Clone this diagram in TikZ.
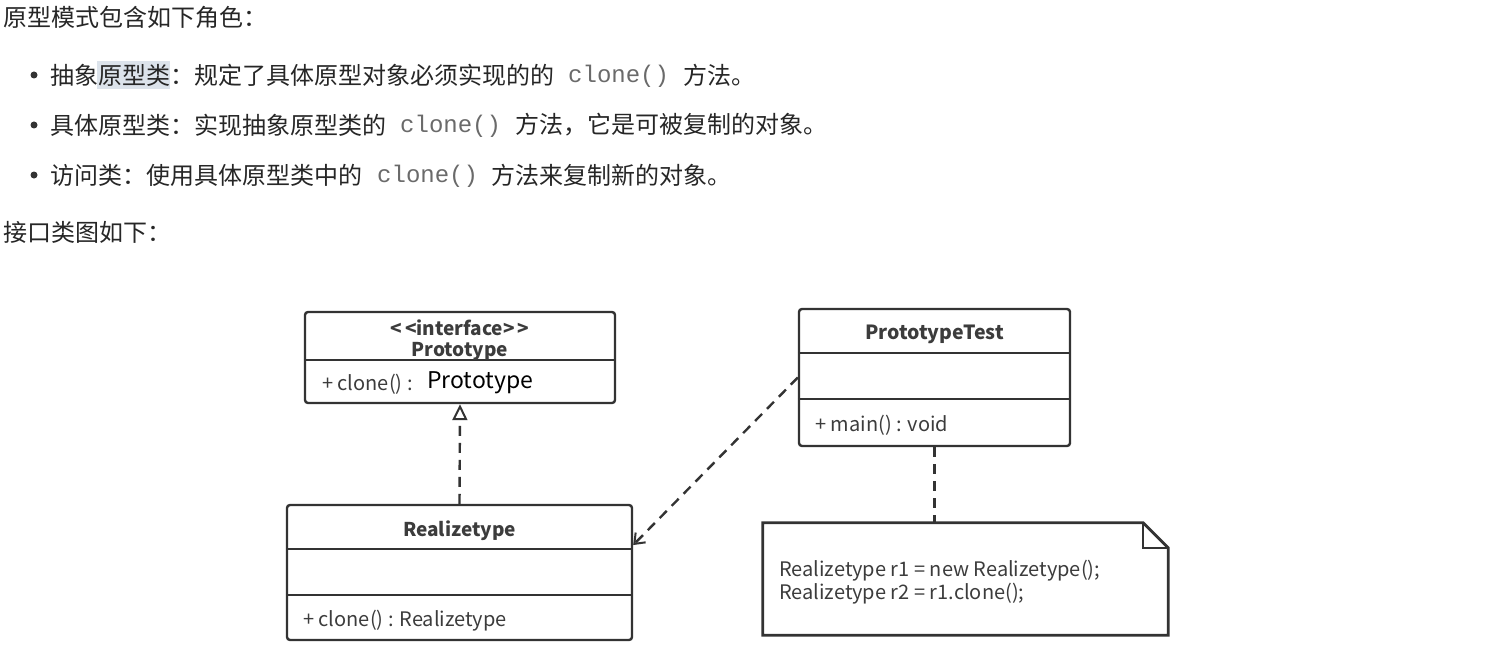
\documentclass[tikz,border=0pt]{standalone}
\usepackage{fontspec}
\setmainfont{Noto Sans CJK SC}
\setmonofont{Liberation Mono}
\usetikzlibrary{positioning,arrows.meta,calc}

\definecolor{umlline}{HTML}{333333}
\definecolor{umltext}{HTML}{3C3C3C}
\definecolor{codegray}{HTML}{6A6A6A}
\definecolor{hilite}{HTML}{DCE3EB}

\tikzset{
  txt/.style={anchor=west, inner sep=0pt, font=\fontsize{24}{28}\selectfont, text=black!85},
  code/.style={anchor=west, inner sep=0pt, font=\ttfamily\fontsize{24}{28}\selectfont, text=codegray},
  bulletdot/.style={circle, fill=black!80, inner sep=0pt, minimum size=7pt},
  classbox/.style={draw=umlline, line width=2.4pt, rounded corners=3pt, inner sep=0pt},
  divider/.style={draw=umlline, line width=2.4pt},
  member/.style={anchor=west, inner sep=0pt, font=\fontsize{20}{23}\selectfont, text=umltext},
  classname/.style={inner sep=0pt, font=\bfseries\fontsize{19}{22}\selectfont, text=umltext},
  dashline/.style={draw=umlline, line width=2.4pt, dash pattern=on 10pt off 7pt},
}

\begin{document}
\begin{tikzpicture}[x=1pt,y=-1pt]
  \useasboundingbox (0,0) rectangle (1496,650);

  % Text above the diagram
  \fill[hilite] (97,61) rectangle (170,89);
  \node[txt] (head) at (3,17) {原型模式包含如下角色：};

  \node[bulletdot] (b1) at (34,75) {};
  \node[txt] (l1a) at (50,75) {抽象原型类：规定了具体原型对象必须实现的的};
  \node[code] (l1b) at (568,76) {clone()};
  \node[txt] (l1c) at (683,75) {方法。};

  \node[bulletdot] (b2) at (34,125) {};
  \node[txt] (l2a) at (50,125) {具体原型类：实现抽象原型类的};
  \node[code] (l2b) at (400,126) {clone()};
  \node[txt] (l2c) at (515,125) {方法，它是可被复制的对象。};

  \node[bulletdot] (b3) at (34,175) {};
  \node[txt] (l3a) at (50,175) {访问类：使用具体原型类中的};
  \node[code] (l3b) at (377,176) {clone()};
  \node[txt] (l3c) at (491,175) {方法来复制新的对象。};

  \node[txt] (head2) at (3,232) {接口类图如下：};

  % Interface Prototype
  \node[classbox, minimum width=310pt, minimum height=91pt] (proto) at (460,357.5) {};
  \draw[divider] (proto.west |- 0,360) -- (proto.east |- 0,360);
  \node[classname] (protost) at (460,328) {{<}\,{<}interface{>}\,{>}};
  \node[classname] (protoname) at (460,351) {Prototype};
  \node[member] (protom) at (322,384) {+ clone() :};
  \node[member, font=\fontsize{23}{26}\selectfont, text=black] (protot) at (427,383) {Prototype};

  % Class PrototypeTest
  \node[classbox, minimum width=271pt, minimum height=137pt] (test) at (934.5,377.5) {};
  \draw[divider] (test.west |- 0,353) -- (test.east |- 0,353);
  \draw[divider] (test.west |- 0,399) -- (test.east |- 0,399);
  \node[classname, font=\bfseries\fontsize{19.5}{22}\selectfont] (testname) at (934.5,334) {PrototypeTest};
  \node[member] (testm) at (815,425) {+ main() : void};

  % Class Realizetype
  \node[classbox, minimum width=345pt, minimum height=135pt] (real) at (459.5,572.5) {};
  \draw[divider] (real.west |- 0,549) -- (real.east |- 0,549);
  \draw[divider] (real.west |- 0,595) -- (real.east |- 0,595);
  \node[classname] (realname) at (459.5,531) {Realizetype};
  \node[member] (realm) at (303,621) {+ clone() : Realizetype};

  % Note
  \node[inner sep=0pt, minimum width=405pt, minimum height=112pt] (note) at (965.5,579) {};
  \draw[draw=umlline, line width=2.8pt, line join=miter]
    (note.north west) -- ($(note.north east)+(-25,0)$) -- ($(note.north east)+(0,25)$)
    -- (note.south east) -- (note.south west) -- cycle;
  \draw[draw=umlline, line width=2.4pt] ($(note.north east)+(-25,0)$) |- ($(note.north east)+(0,25)$);
  \node[member, align=left] (notetext) at (779,582) {Realizetype r1 = new Realizetype();\\Realizetype r2 = r1.clone();};

  % Connectors
  \draw[dashline, -{Triangle[open, length=16pt, width=15pt, line width=2pt]}] (real.north) -- (proto.south);
  \draw[dashline, -{Straight Barb[length=9pt, width=14pt, line width=2pt]}] (test.west) -- ($(real.north east)!0.3!(real.south east)$);
  \draw[dashline] (test.south) -- (test.south |- note.north);
\end{tikzpicture}
\end{document}
